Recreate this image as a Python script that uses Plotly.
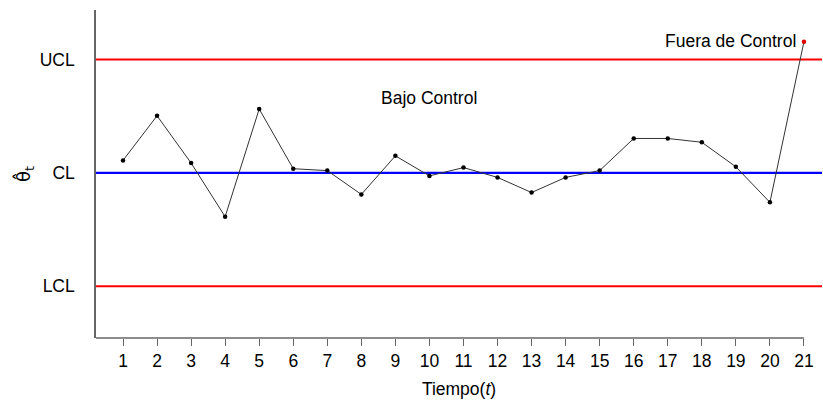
import plotly.graph_objects as go

# Data
t = list(range(1, 22))
theta = [0.33, 1.51, 0.26, -1.16, 1.69, 0.11, 0.06, -0.57, 0.45, -0.08,
         0.14, -0.12, -0.52, -0.12, 0.06, 0.91, 0.91, 0.81, 0.16, -0.78, 3.47]
limit_names = ["UCL", "CL", "LCL"]
limit_values = [3.0, 0.0, -3.0]
limit_colors = ["#ff0000", "#0000ff", "#ff0000"]
in_label = "Bajo Control"
out_label = "Fuera de Control"

font = "Liberation Sans, Arial, sans-serif"
fs = 17.5
xr = [0.207, 21.53]
yr = [-4.37, 4.31]

fig = go.Figure()

# control lines
for name, val, col in zip(limit_names, limit_values, limit_colors):
    fig.add_trace(go.Scatter(x=xr, y=[val, val], mode="lines",
                             line=dict(color=col, width=2.2),
                             hoverinfo="skip", showlegend=False))

# series line
fig.add_trace(go.Scatter(x=t, y=theta, mode="lines",
                         line=dict(color="#333333", width=1),
                         showlegend=False))
# points (out of control in red)
in_ctrl = [(x, y) for x, y in zip(t, theta) if limit_values[2] <= y <= limit_values[0]]
out_ctrl = [(x, y) for x, y in zip(t, theta) if not (limit_values[2] <= y <= limit_values[0])]
fig.add_trace(go.Scatter(x=[p[0] for p in in_ctrl], y=[p[1] for p in in_ctrl],
                         mode="markers", marker=dict(color="black", size=4.5),
                         showlegend=False))
fig.add_trace(go.Scatter(x=[p[0] for p in out_ctrl], y=[p[1] for p in out_ctrl],
                         mode="markers", marker=dict(color="#e00000", size=4.5),
                         showlegend=False))

# annotations
fig.add_annotation(x=10, y=1.97, text=in_label, showarrow=False,
                   font=dict(family=font, size=fs, color="black"))
fig.add_annotation(x=out_ctrl[0][0], y=out_ctrl[0][1], text=out_label, showarrow=False,
                   xanchor="right", xshift=-6, yshift=1,
                   font=dict(family=font, size=fs, color="black"))

# bottom axis line from left edge to last tick
fig.add_shape(type="line", xref="x", yref="paper", x0=xr[0], x1=t[-1], y0=0, y1=0,
              line=dict(color="#666666", width=1.5))

fig.update_layout(
    width=823, height=405,
    margin=dict(l=96, r=1, t=10, b=67),
    plot_bgcolor="white", paper_bgcolor="white",
    font=dict(family=font, size=fs, color="black"),
    xaxis=dict(range=xr, tickmode="array", tickvals=t, ticktext=[str(v) for v in t],
               showgrid=False, zeroline=False, showline=False,
               ticks="outside", ticklen=7, tickcolor="#666666", tickwidth=1.2,
               title=dict(text="Tiempo(<i>t</i>)", standoff=12,
                          font=dict(family=font, size=fs))),
    yaxis=dict(range=yr, tickmode="array", tickvals=limit_values, ticktext=limit_names,
               showgrid=False, zeroline=False, showline=True, linecolor="#666666",
               linewidth=1.5, ticks="", ticklabelstandoff=16,
               title=dict(text="θ\u0302<sub>t</sub>", standoff=4,
                          font=dict(family="DejaVu Sans, sans-serif", size=18))),
)

fig.write_html("out.html")
